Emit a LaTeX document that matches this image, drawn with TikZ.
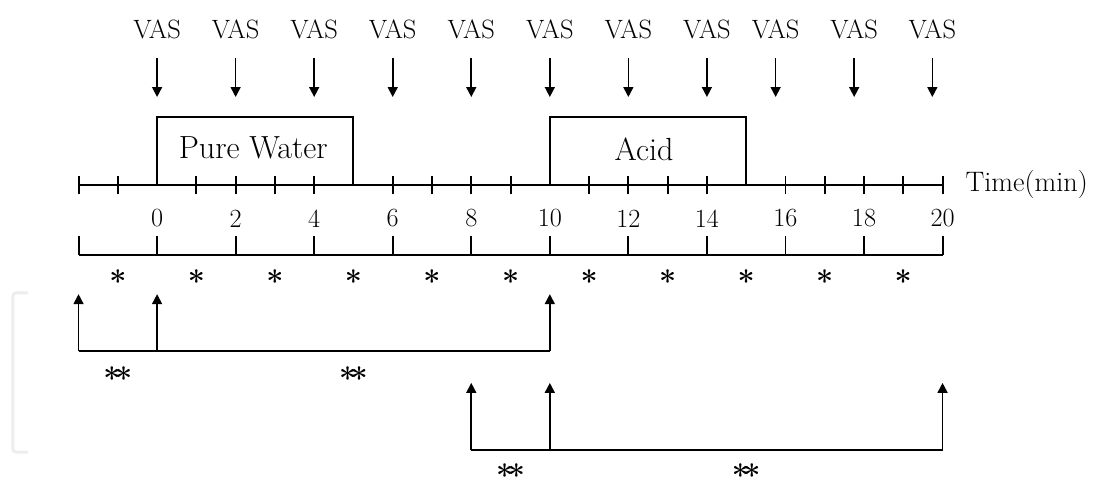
\documentclass[tikz,border=0pt]{standalone}
\usetikzlibrary{arrows.meta,positioning}

\tikzset{
    axisline/.style={line width=1.4pt},
    vasarrow/.style={line width=1.2pt, -{Triangle[width=7.2pt,length=7.2pt]}},
    uparrow/.style={line width=1.2pt, -{Triangle[width=7.2pt,length=7.2pt]}},
    faint/.style={black!7, line width=2.2pt, rounded corners=2pt},
    vaslbl/.style={inner sep=0pt, font=\fontsize{19.2}{21}\selectfont},
    numlbl/.style={inner sep=0pt, font=\fontsize{19}{21}\selectfont},
    boxlbl/.style={inner sep=0pt, font=\fontsize{23.2}{26}\selectfont},
    timelbl/.style={inner sep=0pt, font=\fontsize{20.4}{22}\selectfont},
    starlbl/.style={inner sep=0pt, anchor=base, font=\fontsize{22}{24}\selectfont\bfseries}
}

\begin{document}
\begin{tikzpicture}
    \useasboundingbox (-4.0,-7.74) rectangle (24.06,4.71);

    % faint bracket on the left
    \draw[faint] (-3.29,-2.75) -- (-3.67,-2.75) -- (-3.67,-6.80) -- (-3.29,-6.80);

    % VAS ratings
    \foreach \x [count=\i] in {0,2,4,6,8,10,12,14,15.75,17.75,19.74} {
        \node[vaslbl] (vas\i) at (\x,3.97) {VAS};
        \coordinate (vtop\i) at (\x,3.23);
        \coordinate (vtip\i) at (\x,2.24);
        \draw[vasarrow] (vtop\i) -- (vtip\i);
    }

    % Time axis
    \coordinate (ax0) at (-2,0);
    \coordinate (ax1) at (20,0);
    \draw[axisline] (ax0) -- (ax1);
    \foreach \t in {-2,-1,1,2,3,4,6,7,8,9,11,12,13,14,16,17,18,19,20}
        \draw[axisline] (\t,-0.24) -- (\t,0.23);
    \node[timelbl, right=0.58cm of ax1] (time) {Time(min)};

    % Pure water and acid periods
    \draw[axisline] (0,0) |- (5,1.73) -- (5,0);
    \draw[axisline] (10,0) |- (15,1.73) -- (15,0);
    \node[boxlbl] (water) at (2.45,0.94) {Pure Water};
    \node[boxlbl] (acid) at (12.4,0.9) {Acid};

    % minute numbers
    \foreach \t in {0,2,...,20}
        \node[numlbl] (num\t) at (\t,-0.85) {\t};

    % two-minute intervals
    \draw[axisline] (-2,-1.78) -- (20,-1.78);
    \foreach \t in {-2,0,...,20}
        \draw[axisline] (\t,-1.78) -- (\t,-1.30);
    \foreach \t [count=\i] in {-1,1,...,19}
        \node[starlbl] (star\i) at (\t,-2.735) {*};

    % first comparison
    \coordinate (pa) at (-2,-4.23);
    \coordinate (pb) at (0,-4.23);
    \coordinate (pc) at (10,-4.23);
    \coordinate (qa) at (-2,-2.78);
    \coordinate (qb) at (0,-2.78);
    \coordinate (qc) at (10,-2.78);
    \draw[axisline] (pa) -- (pc);
    \draw[uparrow] (pa) -- (qa);
    \draw[uparrow] (pb) -- (qb);
    \draw[uparrow] (pc) -- (qc);
    \node[starlbl] (dstar1) at (-1,-5.205) {*\kern-4pt*};
    \node[starlbl] (dstar2) at (5,-5.205) {*\kern-4pt*};

    % second comparison
    \coordinate (ra) at (8,-6.76);
    \coordinate (rb) at (10,-6.76);
    \coordinate (rc) at (20,-6.76);
    \coordinate (sa) at (8,-5.04);
    \coordinate (sb) at (10,-5.04);
    \coordinate (sc) at (20,-5.04);
    \draw[axisline] (ra) -- (rc);
    \draw[uparrow] (ra) -- (sa);
    \draw[uparrow] (rb) -- (sb);
    \draw[uparrow] (rc) -- (sc);
    \node[starlbl] (dstar3) at (9,-7.675) {*\kern-4pt*};
    \node[starlbl] (dstar4) at (15,-7.675) {*\kern-4pt*};
\end{tikzpicture}
\end{document}
